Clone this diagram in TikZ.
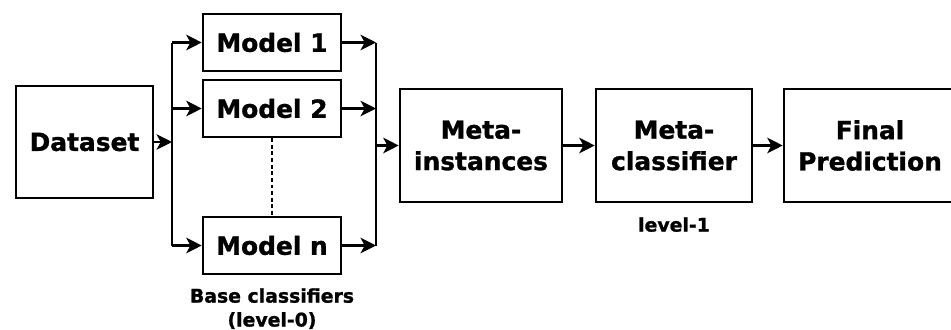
\documentclass[tikz,border=0pt]{standalone}
\usepackage{fontspec}
\setmainfont{DejaVu Sans}[BoldFeatures={FakeBold=1.2}]
\usetikzlibrary{arrows.meta, positioning}

\begin{document}
\begin{tikzpicture}[
  x=0.025cm, y=-0.025cm,
  box/.style={rectangle, draw=black, line width=1.8pt, align=center, inner sep=0pt,
              font=\fontsize{17.7}{22.3}\selectfont\bfseries},
  model/.style={box, minimum width=3.45cm, minimum height=1.425cm},
  meta/.style={box, minimum height=2.825cm},
  lbl/.style={align=center, inner sep=0pt, anchor=north,
              font=\fontsize{13.4}{17}\selectfont\bfseries},
  bus/.style={line width=1.8pt},
  arr/.style={-{Stealth[length=11pt, width=11pt, inset=3pt]}, line width=1.8pt},
  dots/.style={line width=1.8pt, dash pattern=on 2.8pt off 1.9pt},
]

\useasboundingbox (0,0) rectangle (951,329);

\def\xL{172} \def\xR{376}

% Input
\node[box, minimum width=3.425cm, minimum height=2.8cm] (data) at (84.5,142) {Dataset};

% Base classifiers
\node[model] (m1) at (272,42.5)  {Model 1};
\node[model] (m2) at (272,108.5) {Model 2};
\node[model] (mn) at (272,245.5) {Model n};
\node[lbl] (base) at (272,288) {Base classifiers\\(level-0)};

% Meta level
\node[meta, minimum width=4.05cm] (inst) at (481,145.5) {Meta-\\instances};
\node[meta, minimum width=3.9cm]  (clf)  at (674,145.5) {Meta-\\classifier};
\node[meta, minimum width=4.3cm]  (pred) at (870,145.5) {Final\\Prediction};
\node[lbl] (lev1) at (674,217) {level-1};

% Buses
\coordinate (busLt) at (\xL,42.5);  \coordinate (busLb) at (\xL,245.5);
\coordinate (busRt) at (\xR,42.5);  \coordinate (busRb) at (\xR,245.5);
\draw[bus] (busLt) -- (busLb);
\draw[bus] (busRt) -- (busRb);

% Fan out / fan in
\draw[arr] (data.east) -- (data.east -| busLt);
\foreach \m in {m1,m2,mn} {
  \draw[arr] (busLt |- \m.west) -- (\m.west);
  \draw[arr] (\m.east) -- (busRt |- \m.east);
}
\draw[dots] (m2.south) -- (mn.north);

% Chain
\draw[arr] (busRt |- inst.west) -- (inst.west);
\draw[arr] (inst.east) -- (clf.west);
\draw[arr] (clf.east) -- (pred.west);

\end{tikzpicture}
\end{document}
